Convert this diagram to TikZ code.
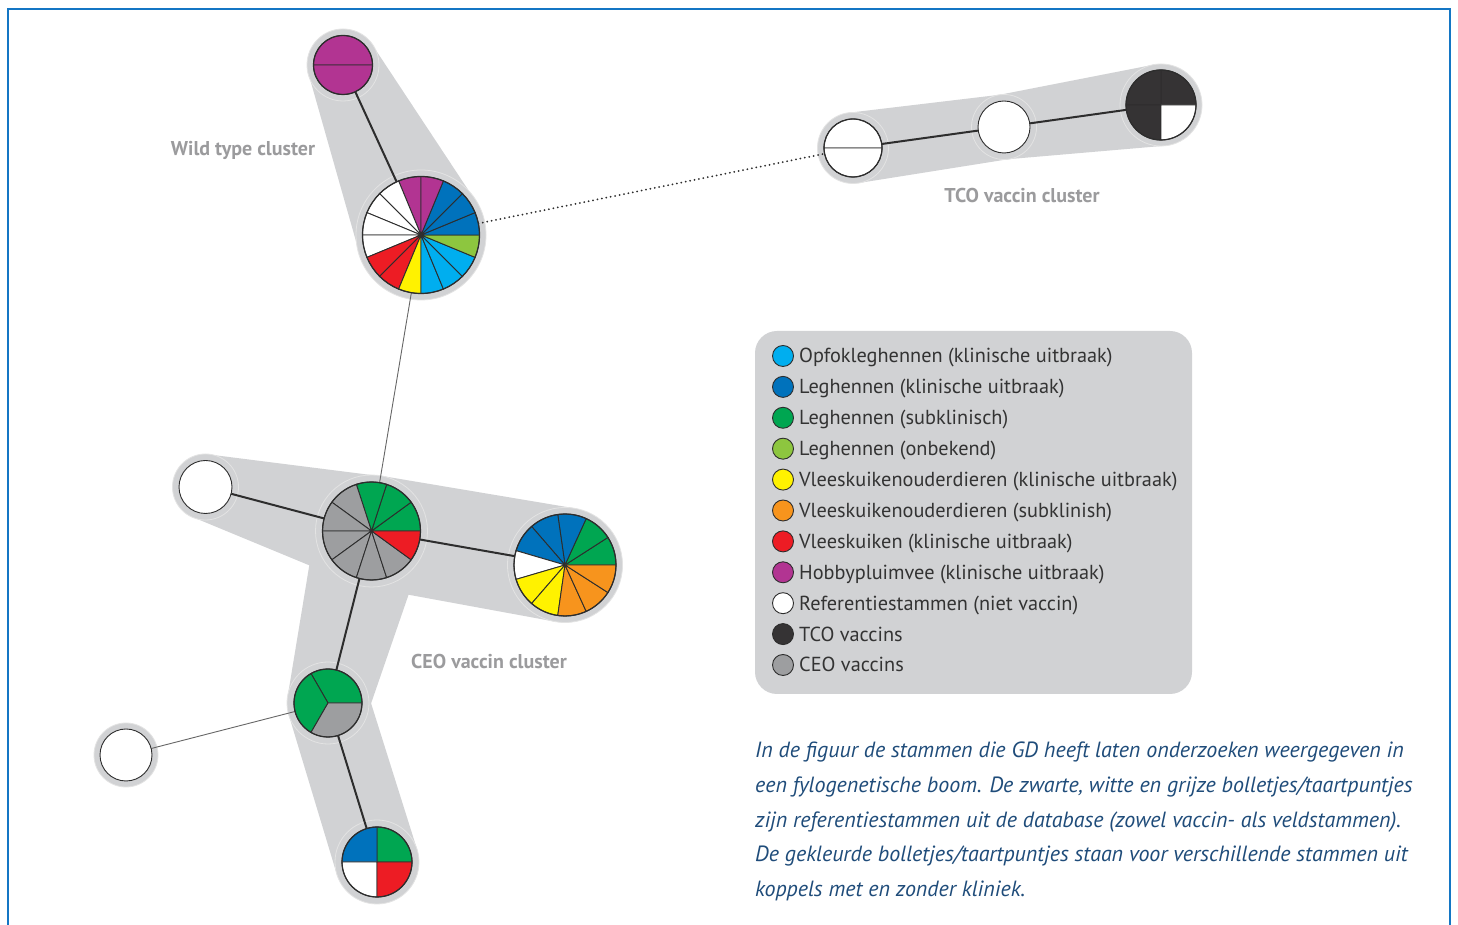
\documentclass[tikz,border=0pt]{standalone}
\usepackage{fontspec}
\setmainfont{PT Sans}
\usetikzlibrary{calc, positioning}

\definecolor{ptcyan}{RGB}{0,174,239}
\definecolor{ptblue}{RGB}{0,114,188}
\definecolor{ptgreen}{RGB}{0,166,81}
\definecolor{ptlime}{RGB}{141,198,63}
\definecolor{ptyellow}{RGB}{255,242,0}
\definecolor{ptorange}{RGB}{247,148,29}
\definecolor{ptred}{RGB}{237,28,36}
\definecolor{ptmag}{RGB}{178,52,146}
\definecolor{ptwhite}{RGB}{255,255,255}
\definecolor{ptblack}{RGB}{53,51,52}
\definecolor{ptgray}{RGB}{157,158,160}
\definecolor{hullgray}{RGB}{209,210,212}
\definecolor{rimline}{RGB}{45,45,45}
\definecolor{frameblue}{RGB}{20,118,196}
\definecolor{lblgray}{RGB}{155,155,157}
\definecolor{capblue}{RGB}{31,76,122}

% pie: node, radius, start angle, step, colours (counter-clockwise)
\newcommand{\pie}[5]{%
  \foreach \col [count=\k from 0] in {#5}
    \filldraw[slice, fill=\col] (#1.center) -- ++({#3+\k*#4}:#2)
      arc[start angle={#3+\k*#4}, delta angle=#4, radius=#2] -- cycle;
  \draw[rim] (#1.center) circle (#2);
}
% grey band between two halos
\newcommand{\hull}[4]{%
  \fill[hullgray] ($(#1)!#2pt!90:(#3)$) -- ($(#3)!#4pt!-90:(#1)$)
    -- ($(#3)!#4pt!90:(#1)$) -- ($(#1)!#2pt!-90:(#3)$) -- cycle;
}

\tikzset{
  pienode/.style={circle, inner sep=0pt, outer sep=0pt, minimum size=#1},
  slice/.style={draw=rimline, line width=0.9pt},
  rim/.style={draw=rimline, line width=1.2pt},
  halo/.style={fill=hullgray, draw=gray!22, line width=0.8pt},
  thicklink/.style={draw=rimline, line width=2pt},
  thinlink/.style={draw=black!60, line width=0.9pt},
  dotlink/.style={draw=rimline, line width=2pt, line cap=round, dash pattern=on 0pt off 4.5pt},
  clusterlabel/.style={text=lblgray, font=\fontsize{20}{24}\selectfont\bfseries},
  legdot/.style={circle, draw=rimline, line width=0.9pt, minimum size=21pt, inner sep=0pt},
  legtxt/.style={text=black!80, font=\fontsize{20.3}{24}\selectfont, inner sep=0pt},
  captxt/.style={text=capblue, font=\fontsize{22}{26}\selectfont\itshape, inner sep=0pt},
}

\begin{document}
\begin{tikzpicture}[x=1pt, y=1pt]
  \useasboundingbox (0,0) rectangle (1458,925);
  \fill[white] (0,0) rectangle (1458,925);

  % frame
  \draw[frameblue, line width=2pt] (8,0) -- (8,916) -- (1450,916) -- (1450,0);

  % strain nodes
  \node[pienode=59pt]  (mag)  at (343,860) {};
  \node[pienode=117pt] (wild) at (421,690) {};
  \node[pienode=58pt]  (tcoA) at (853,777) {};
  \node[pienode=52pt]  (tcoB) at (1004,798) {};
  \node[pienode=70pt]  (tcoC) at (1161,820) {};
  \node[pienode=53pt]  (refA) at (205.5,438) {};
  \node[pienode=98pt]  (ceo)  at (371.5,394) {};
  \node[pienode=102pt] (rgt)  at (565,360) {};
  \node[pienode=68pt]  (sml)  at (328,222) {};
  \node[pienode=52pt]  (refB) at (126,170) {};
  \node[pienode=70pt]  (bot)  at (377,63) {};

  % cluster hulls
  \hull{mag}{36}{wild}{65}
  \hull{tcoA}{35.5}{tcoB}{32.5}
  \hull{tcoB}{32.5}{tcoC}{41}
  \hull{refA}{33}{ceo}{56}
  \hull{ceo}{56}{rgt}{57.5}
  \hull{ceo}{56}{sml}{41}
  \hull{sml}{41}{bot}{42}
  \filldraw[halo] (mag) circle (36);
  \filldraw[halo] (wild) circle (65);
  \filldraw[halo] (tcoA) circle (35.5);
  \filldraw[halo] (tcoB) circle (32.5);
  \filldraw[halo] (tcoC) circle (41);
  \filldraw[halo] (refA) circle (33);
  \filldraw[halo] (ceo) circle (56);
  \filldraw[halo] (rgt) circle (57.5);
  \filldraw[halo] (sml) circle (41);
  \filldraw[halo] (refB) circle (32);
  \filldraw[halo] (bot) circle (42);

  % links
  \draw[thicklink] (mag) -- (wild);
  \draw[thicklink] (tcoA) -- (tcoB);
  \draw[thicklink] (tcoB) -- (tcoC);
  \draw[thicklink] (refA) -- (ceo);
  \draw[thicklink] (ceo) -- (rgt);
  \draw[thicklink] (ceo) -- (sml);
  \draw[thicklink] (sml) -- (bot);
  \draw[thinlink] (wild) -- (ceo);
  \draw[thinlink] (sml) -- (refB);
  \draw[dotlink] (wild) -- (tcoA);

  % pies
  \pie{mag}{29.5}{0}{180}{ptmag,ptmag}
  \pie{wild}{58.5}{90}{22.5}{ptmag,ptwhite,ptwhite,ptwhite,ptwhite,ptred,ptred,ptyellow,ptcyan,ptcyan,ptcyan,ptlime,ptblue,ptblue,ptblue,ptmag}
  \pie{tcoA}{29}{0}{180}{ptwhite,ptwhite}
  \filldraw[slice, fill=ptwhite] (tcoB) circle (26);
  \pie{tcoC}{35}{0}{90}{ptblack,ptblack,ptblack,ptwhite}
  \filldraw[slice, fill=ptwhite] (refA) circle (26.5);
  \pie{ceo}{49}{0}{36}{ptgreen,ptgreen,ptgreen,ptgray,ptgray,ptgray,ptgray,ptgray,ptgray,ptred}
  \pie{rgt}{51}{0}{32.7273}{ptgreen,ptgreen,ptblue,ptblue,ptblue,ptwhite,ptyellow,ptyellow,ptorange,ptorange,ptorange}
  \pie{sml}{34}{0}{120}{ptgreen,ptgreen,ptgray}
  \filldraw[slice, fill=ptwhite] (refB) circle (26);
  \pie{bot}{35}{0}{90}{ptgreen,ptblue,ptwhite,ptred}

  % cluster names
  \node[clusterlabel] (wildlbl) at (243,775) {Wild type cluster};
  \node[clusterlabel] (tcolbl) at (1022,729) {TCO vaccin cluster};
  \node[clusterlabel] (ceolbl) at (489,263) {CEO vaccin cluster};

  % legend
  \node[fill=hullgray, rounded corners=22pt, minimum width=437pt, minimum height=363pt] (legend) at (973.5,412.5) {};
  \foreach \col/\txt [count=\i from 0] in {
      ptcyan/{Opfokleghennen (klinische uitbraak)},
      ptblue/{Leghennen (klinische uitbraak)},
      ptgreen/{Leghennen (subklinisch)},
      ptlime/{Leghennen (onbekend)},
      ptyellow/{Vleeskuikenouderdieren (klinische uitbraak)},
      ptorange/{Vleeskuikenouderdieren (subklinish)},
      ptred/{Vleeskuiken (klinische uitbraak)},
      ptmag/{Hobbypluimvee (klinische uitbraak)},
      ptwhite/{Referentiestammen (niet vaccin)},
      ptblack/{TCO vaccins},
      ptgray/{CEO vaccins}} {
    \node[legdot, fill=\col] (dot\i) at (783,569-30.9*\i) {};
    \node[legtxt, anchor=base west] (leg\i) at ($(dot\i)+(16,-7)$) {\txt};
  }

  % caption
  \foreach \txt [count=\i from 0] in {
      {In de figuur de stammen die GD heeft laten onderzoeken weergegeven in},
      {een fylogenetische boom. De zwarte, witte en grijze bolletjes/taartpuntjes},
      {zijn referentiestammen uit de database (zowel vaccin- als veldstammen).},
      {De gekleurde bolletjes/taartpuntjes staan voor verschillende stammen uit},
      {koppels met en zonder kliniek.}} {
    \node[captxt, anchor=base west] (cap\i) at (755,167-34.6*\i) {\txt};
  }
\end{tikzpicture}
\end{document}
